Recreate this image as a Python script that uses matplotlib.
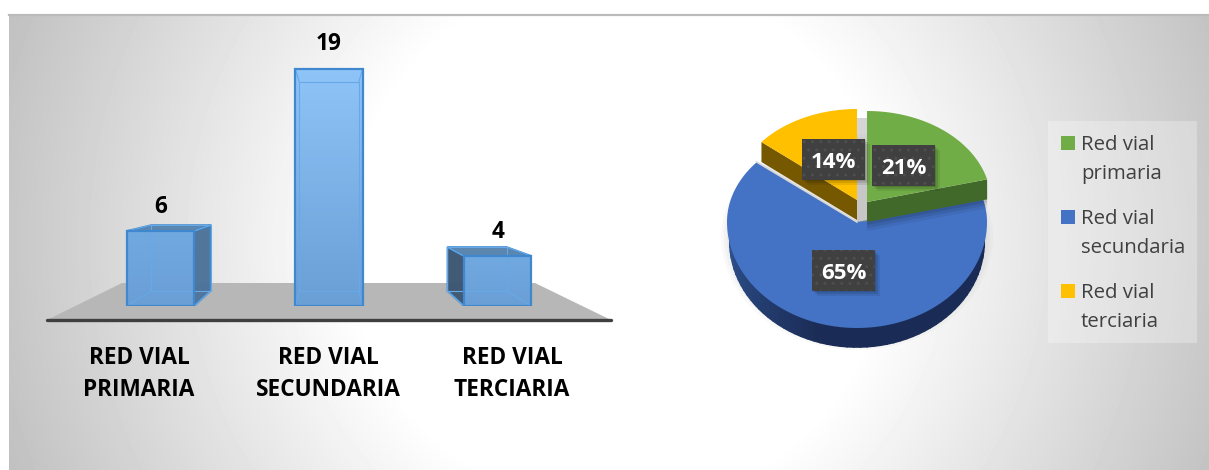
import numpy as np
import matplotlib
matplotlib.use("Agg")
import matplotlib.pyplot as plt
from matplotlib.colors import LinearSegmentedColormap
from matplotlib.patches import Polygon, Rectangle

plt.rcParams["font.family"] = ["Open Sans", "DejaVu Sans"]

# data
categories = ["RED VIAL\nPRIMARIA", "RED VIAL\nSECUNDARIA", "RED VIAL\nTERCIARIA"]
counts = [6, 19, 4]
legend_labels = ["Red vial\nprimaria", "Red vial\nsecundaria", "Red vial\nterciaria"]
shares = [21, 65, 14]
pie_colors = ["#70ad47", "#4472c4", "#ffc000"]
wall_colors = ["#41692a", "#1c3260", "#755800"]

W, H = 1209, 470
BAR_W = 0.40
K = 0.878          # back face scale of the 3d bars
VP_Y = 9.84        # vanishing point height, in bar units

fig = plt.figure(figsize=(W / 100, H / 100), dpi=100, facecolor="white")

# ── canvas in pixels: background, floor, pie, legend ──
ax = fig.add_axes([0, 0, 1, 1])
ax.set_xlim(0, W)
ax.set_ylim(H, 0)
ax.axis("off")

xx, yy = np.meshgrid(np.arange(9, W), np.arange(15, H))
r = np.hypot(xx - 617, yy - 240)
shade = 1 - 0.24 * np.clip((r - 265) / 375, 0, None)
ax.imshow(shade, extent=(9, W, H, 15), cmap="gray", vmin=0, vmax=1, aspect="auto", zorder=0)
ax.set_xlim(0, W)
ax.set_ylim(H, 0)
ax.plot([9, W], [15, 15], color="#bbbbbb", lw=1.6, zorder=1)

# floor and axis line
ax.add_patch(Polygon([(47, 320), (611, 320), (535, 283), (122, 283)], color="#b7b7b7", lw=0, zorder=1))
ax.plot([47, 611], [320, 320], color="#3f3f3f", lw=2.4, solid_capstyle="round", zorder=2)

label_x = [139, 328, 512]
for x, lab in zip(label_x, categories):
    ax.text(x, 374, lab, ha="center", va="center", fontsize=16.3, fontweight="bold",
            color="black", linespacing=1.45, zorder=3)


# ── pie ──
def arc(cx, cy, a, b_back, b_front, t1, t2, n=120):
    t = np.radians(np.linspace(t1, t2, n))
    c = np.cos(t)
    return cx + a * np.sin(t), cy - np.where(c > 0, b_back, b_front) * c


edges = np.cumsum([0] + shares) * 3.6
DEPTH = 20
geom = [(867, 202, 124, 91, 91), (857, 222, 130, 94, 106), (857, 200, 124, 91, 91)]

# soft shadow under the pie
for grow, alpha in zip([8, 5, 2], [0.03, 0.04, 0.05]):
    sx, sy = arc(857, 236, 128 + grow, 94 + grow, 106 + grow, 0, 360)
    ax.fill(sx, sy, color="#555555", alpha=alpha, lw=0, zorder=3)

# blue slice, wall first with a left to right darkening
cx, cy, a, bb, bf = geom[1]
segs = np.linspace(max(edges[1], 90), min(edges[2], 270), 60)
for t1, t2 in zip(segs[:-1], segs[1:]):
    x, y = arc(cx, cy, a - 3, bb, bf - 1, t1, t2, 8)
    mix = (t2 - 90) / 180
    dark = np.array([0x1a, 0x2c, 0x55]) / 255
    light = np.array([0x2f, 0x52, 0x90]) / 255
    col = dark + (light - dark) * np.clip((mix - 0.6) / 0.4, 0, 1)
    ax.fill(np.r_[x, x[::-1]], np.r_[y, y[::-1] + DEPTH], color=col, lw=1.2, ec=col, zorder=4)
x, y = arc(cx, cy, a, bb, bf, edges[1], edges[2])
ax.fill(np.r_[cx, x], np.r_[cy, y], color=pie_colors[1], lw=0, zorder=5)
ax.plot(np.r_[cx, x[-1]], np.r_[cy, y[-1]], color="#d8d8d8", lw=1.2, zorder=5)

# grey gap between the exploded slices
ax.add_patch(Polygon([(857, 118), (867, 118), (867, 222), (857, 222)], color="#8a8a8a", alpha=0.35, lw=0, zorder=5))

# exploded slices: cut wall, then top
for i, wall_end in zip([2, 0], [edges[2], edges[1]]):
    cx, cy, a, bb, bf = geom[i]
    x, y = arc(cx, cy, a, bb, bf, wall_end, wall_end, 1)
    wall = [(cx, cy), (x[0], y[0]), (x[0], y[0] + DEPTH), (cx, cy + DEPTH)]
    if i == 0:
        # shadow the green wall throws on the blue slice
        for off, alpha in zip([9, 6, 3], [0.06, 0.08, 0.10]):
            ax.add_patch(Polygon([(px, py + off) for px, py in wall], color="black", alpha=alpha, lw=0, zorder=5.5))
    ax.add_patch(Polygon(wall, color=wall_colors[i], lw=0, zorder=6))
    x, y = arc(cx, cy, a, bb, bf, edges[i], edges[i + 1])
    ax.fill(np.r_[cx, x], np.r_[cy, y], color=pie_colors[i], lw=0, zorder=7)

# data labels
label_boxes = [(872, 145), (812, 250), (802, 139)]
for (bx, by), s in zip(label_boxes, shares):
    for off, alpha in zip([5, 3, 1], [0.08, 0.10, 0.12]):
        ax.add_patch(Rectangle((bx + off, by + off), 63, 41, color="#000000", alpha=alpha, lw=0, zorder=8))
    ax.add_patch(Rectangle((bx, by), 63, 41, facecolor="#404040", edgecolor="#4e4e4e",
                           hatch="..", lw=0, zorder=9))
    ax.text(bx + 31.5, by + 23.5, f"{s}%", ha="center", va="center", fontsize=16,
            fontweight="bold", color="white", zorder=10)

# legend
ax.add_patch(Rectangle((1048, 121), 149, 222, color="white", alpha=0.28, lw=0, zorder=3))
for lab, col, y0 in zip(legend_labels, pie_colors, [143, 217, 291]):
    ax.add_patch(Rectangle((1061, y0 - 7), 14, 14, color=col, lw=0, zorder=4))
    ax.text(1081, y0 + 16.5, lab, ha="left", va="center", fontsize=14.7, color="#404040",
            linespacing=1.6, zorder=4)

# ── 3d bars ──
bar_ax = fig.add_axes([76 / W, (H - 306) / H, 506 / W, 250 / H])
bar_ax.patch.set_alpha(0)
bar_ax.axis("off")


def back(x, y):
    return 1 + (x - 1) * K, VP_Y + (y - VP_Y) * K


EDGE = "#3f88cf"
LIGHT = "#66a9e6"
for i, v in enumerate(counts):
    l, r = i - BAR_W / 2, i + BAR_W / 2
    fb = [(l, 0), (r, 0), (r, v), (l, v)]
    bb_pts = [back(*p) for p in fb]
    bar_ax.add_patch(Polygon(bb_pts, facecolor="#5b9bd5", alpha=0.55, lw=0, zorder=2))
    if i == 0:
        side = [fb[1], fb[2], bb_pts[2], bb_pts[1]]
        bar_ax.add_patch(Polygon(side, facecolor="#4d7299", edgecolor=EDGE, lw=1.3, alpha=0.95, zorder=3))
    elif i == 2:
        side = [fb[0], fb[3], bb_pts[3], bb_pts[0]]
        bar_ax.add_patch(Polygon(side, facecolor="#3c5570", edgecolor=EDGE, lw=1.3, alpha=0.95, zorder=3))
    if v < VP_Y:
        top = [fb[2], fb[3], bb_pts[3], bb_pts[2]]
        bar_ax.add_patch(Polygon(top, facecolor="#5a86b0", edgecolor=EDGE, lw=1.3, zorder=3))

    # front face with a soft vertical gradient
    grad = np.linspace(0, 1, 64).reshape(-1, 1)
    bar_ax.imshow(grad, extent=(l, r, 0, v), origin="lower", aspect="auto", zorder=4,
                  cmap=LinearSegmentedColormap.from_list(
                      "f", ["#6a9fd6", "#8fc4f8" if v > VP_Y else "#70a9e0"]))
    bar_ax.plot([b[0] for b in bb_pts + bb_pts[:1]], [b[1] for b in bb_pts + bb_pts[:1]],
                color=LIGHT, lw=0.8, zorder=5)
    for p, q in zip(fb, bb_pts):
        bar_ax.plot([p[0], q[0]], [p[1], q[1]], color=LIGHT, lw=0.8, zorder=5)
    bar_ax.add_patch(Rectangle((l, 0), BAR_W, v, fill=False, edgecolor=EDGE, lw=1.6, zorder=6))

    # value label above the front top
    bar_ax.text(i, v + 1.93, str(v), ha="center", va="center", fontsize=16.3,
                fontweight="bold", color="black", clip_on=False, zorder=7)

bar_ax.set_xlim(-0.5, 2.5)
bar_ax.set_ylim(0, 20)

fig.savefig("out.png", dpi=100)
